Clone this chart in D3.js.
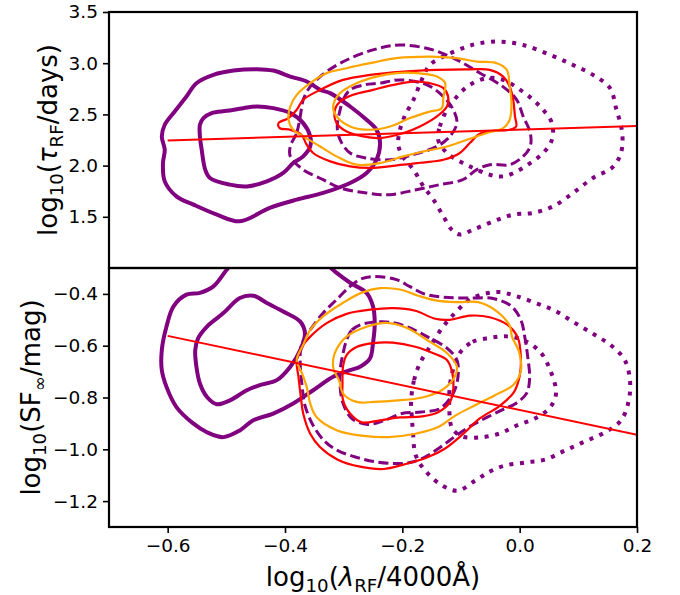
<!DOCTYPE html>
<html><head><meta charset="utf-8">
<script src="https://cdn.jsdelivr.net/npm/d3@7"></script>
<style>
html,body{margin:0;padding:0;background:#fff;}
svg{display:block;}
text{font-family:"DejaVu Sans",sans-serif;}
</style></head>
<body>
<svg id="chart" width="680" height="595"></svg>
<script>
// ---------- data ----------
const xDomain = [-0.7, 0.2];
const tauDomain = [1.0, 3.5];
const sfDomain = [-1.3, -0.3];
const xTicks = [-0.6, -0.4, -0.2, 0.0, 0.2];
const tauTicks = [1.5, 2.0, 2.5, 3.0, 3.5];
const sfTicks = [-1.2, -1.0, -0.8, -0.6, -0.4];

// regression lines (x endpoints, y endpoints)
const fitX = [-0.6, 0.2];
const tauFitY = [2.246, 2.386];
const sfFitY = [-0.562, -0.944];

// ---- top panel (tau) contours ----
const tauPurpleSolidOuter = [[-0.610,2.285],[-0.605,2.399],[-0.588,2.528],[-0.568,2.674],[-0.551,2.805],[-0.522,2.886],[-0.488,2.928],[-0.448,2.942],[-0.420,2.928],[-0.391,2.869],[-0.363,2.821],[-0.340,2.740],[-0.323,2.708],[-0.289,2.577],[-0.261,2.447],[-0.244,2.350],[-0.238,2.220],[-0.244,2.057],[-0.261,1.928],[-0.289,1.830],[-0.335,1.733],[-0.380,1.668],[-0.426,1.587],[-0.477,1.456],[-0.516,1.521],[-0.556,1.619],[-0.585,1.700],[-0.605,1.846],[-0.608,2.025],[-0.605,2.155]];
const tauPurpleSolidInner = [[-0.545,2.399],[-0.539,2.464],[-0.525,2.513],[-0.499,2.535],[-0.471,2.561],[-0.448,2.577],[-0.420,2.561],[-0.391,2.513],[-0.369,2.415],[-0.357,2.285],[-0.357,2.187],[-0.369,2.090],[-0.386,2.025],[-0.403,1.928],[-0.431,1.846],[-0.465,1.797],[-0.494,1.814],[-0.528,1.879],[-0.536,1.960],[-0.542,2.155],[-0.545,2.285]];
const tauPurpleDashOuter = [[-0.391,2.187],[-0.380,2.321],[-0.374,2.480],[-0.369,2.642],[-0.357,2.772],[-0.340,2.869],[-0.306,3.000],[-0.250,3.130],[-0.204,3.178],[-0.148,3.130],[-0.107,3.032],[-0.068,2.905],[-0.028,2.769],[-0.005,2.642],[0.006,2.480],[0.018,2.321],[0.018,2.187],[0.006,2.090],[-0.017,2.009],[-0.051,2.009],[-0.073,1.960],[-0.097,1.863],[-0.136,1.814],[-0.176,1.765],[-0.221,1.716],[-0.261,1.733],[-0.306,1.782],[-0.335,1.863],[-0.369,1.960],[-0.391,2.090]];
const tauPurpleDashInner = [[-0.306,2.545],[-0.301,2.642],[-0.289,2.740],[-0.264,2.789],[-0.238,2.805],[-0.204,2.837],[-0.158,2.789],[-0.130,2.674],[-0.113,2.545],[-0.107,2.415],[-0.119,2.285],[-0.141,2.187],[-0.182,2.106],[-0.221,2.057],[-0.261,2.074],[-0.289,2.123],[-0.306,2.252],[-0.311,2.382]];
const tauPurpleDotOuter = [[-0.207,2.204],[-0.204,2.350],[-0.195,2.496],[-0.181,2.642],[-0.167,2.837],[-0.153,2.983],[-0.124,3.081],[-0.090,3.162],[-0.068,3.195],[-0.034,3.211],[0.006,3.178],[0.052,3.081],[0.091,2.983],[0.125,2.886],[0.154,2.756],[0.165,2.545],[0.174,2.350],[0.174,2.155],[0.160,1.992],[0.125,1.879],[0.091,1.733],[0.057,1.602],[0.023,1.538],[-0.011,1.521],[-0.045,1.456],[-0.079,1.375],[-0.102,1.327],[-0.116,1.375],[-0.130,1.505],[-0.147,1.668],[-0.164,1.797],[-0.181,1.960],[-0.199,2.087]];
const tauPurpleDotInner = [[-0.139,2.252],[-0.136,2.382],[-0.124,2.545],[-0.107,2.674],[-0.085,2.789],[-0.056,2.854],[-0.028,2.837],[0.001,2.740],[0.023,2.642],[0.040,2.545],[0.055,2.415],[0.055,2.252],[0.040,2.123],[0.018,2.025],[-0.005,1.943],[-0.028,1.895],[-0.051,1.911],[-0.085,1.992],[-0.107,2.057],[-0.124,2.123]];
const tauRedOuter = [[-0.411,2.415],[-0.394,2.464],[-0.380,2.545],[-0.369,2.642],[-0.340,2.740],[-0.301,2.837],[-0.255,2.886],[-0.198,2.918],[-0.141,2.935],[-0.085,2.940],[-0.051,2.935],[-0.028,2.869],[-0.017,2.772],[-0.011,2.642],[-0.008,2.480],[-0.006,2.382],[-0.017,2.350],[-0.045,2.340],[-0.068,2.311],[-0.085,2.220],[-0.102,2.123],[-0.130,2.057],[-0.170,2.028],[-0.198,2.009],[-0.255,1.977],[-0.289,1.992],[-0.323,2.041],[-0.352,2.123],[-0.363,2.204],[-0.372,2.301],[-0.391,2.350],[-0.409,2.366]];
const tauRedInner = [[-0.315,2.545],[-0.312,2.415],[-0.295,2.333],[-0.267,2.285],[-0.238,2.269],[-0.198,2.318],[-0.170,2.382],[-0.141,2.480],[-0.124,2.577],[-0.122,2.674],[-0.130,2.756],[-0.153,2.805],[-0.181,2.821],[-0.215,2.789],[-0.250,2.740],[-0.284,2.691],[-0.306,2.626]];
const tauOrangeOuter = [[-0.391,2.577],[-0.394,2.447],[-0.386,2.350],[-0.369,2.285],[-0.340,2.187],[-0.312,2.090],[-0.278,2.009],[-0.238,2.025],[-0.198,2.090],[-0.164,2.138],[-0.124,2.187],[-0.090,2.252],[-0.056,2.318],[-0.028,2.366],[-0.017,2.447],[-0.014,2.610],[-0.017,2.772],[-0.022,2.935],[-0.039,3.000],[-0.073,3.016],[-0.107,3.049],[-0.153,3.064],[-0.210,3.049],[-0.255,3.000],[-0.295,2.951],[-0.329,2.903],[-0.357,2.805],[-0.380,2.691]];
const tauOrangeInner = [[-0.318,2.577],[-0.312,2.480],[-0.289,2.382],[-0.255,2.350],[-0.221,2.382],[-0.187,2.464],[-0.153,2.528],[-0.133,2.561],[-0.130,2.674],[-0.127,2.805],[-0.141,2.869],[-0.176,2.903],[-0.210,2.903],[-0.244,2.869],[-0.278,2.805],[-0.306,2.708]];

// ---- bottom panel (SF) contours ----
const sfPurpleSolidOuter = [[-0.499,-0.306],[-0.522,-0.371],[-0.545,-0.396],[-0.568,-0.403],[-0.590,-0.448],[-0.602,-0.526],[-0.610,-0.617],[-0.610,-0.694],[-0.602,-0.759],[-0.585,-0.837],[-0.556,-0.901],[-0.533,-0.934],[-0.505,-0.953],[-0.477,-0.927],[-0.454,-0.888],[-0.420,-0.862],[-0.386,-0.823],[-0.352,-0.772],[-0.318,-0.720],[-0.289,-0.694],[-0.272,-0.681],[-0.255,-0.648],[-0.250,-0.590],[-0.247,-0.513],[-0.250,-0.448],[-0.261,-0.396],[-0.289,-0.357],[-0.312,-0.319],[-0.323,-0.298],[-0.350,-0.260],[-0.420,-0.240],[-0.480,-0.260]];
const sfPurpleSolidInner = [[-0.553,-0.617],[-0.551,-0.681],[-0.545,-0.746],[-0.533,-0.798],[-0.516,-0.826],[-0.494,-0.811],[-0.465,-0.772],[-0.443,-0.752],[-0.414,-0.733],[-0.391,-0.681],[-0.374,-0.617],[-0.366,-0.552],[-0.374,-0.507],[-0.403,-0.468],[-0.431,-0.435],[-0.454,-0.407],[-0.477,-0.416],[-0.505,-0.474],[-0.533,-0.526],[-0.548,-0.571]];
const sfPurpleDashOuter = [[-0.372,-0.597],[-0.357,-0.539],[-0.335,-0.474],[-0.312,-0.422],[-0.289,-0.371],[-0.269,-0.341],[-0.247,-0.333],[-0.210,-0.345],[-0.187,-0.372],[-0.164,-0.399],[-0.130,-0.413],[-0.085,-0.416],[-0.045,-0.418],[-0.015,-0.446],[0.002,-0.500],[0.009,-0.570],[0.014,-0.648],[0.017,-0.725],[0.012,-0.783],[-0.006,-0.822],[-0.028,-0.846],[-0.056,-0.877],[-0.088,-0.916],[-0.110,-0.950],[-0.136,-0.993],[-0.163,-1.032],[-0.187,-1.051],[-0.215,-1.055],[-0.247,-1.048],[-0.278,-1.031],[-0.310,-1.005],[-0.332,-0.970],[-0.352,-0.908],[-0.366,-0.830],[-0.371,-0.752],[-0.374,-0.675]];
const sfPurpleDashInner = [[-0.295,-0.578],[-0.286,-0.539],[-0.267,-0.516],[-0.227,-0.508],[-0.193,-0.526],[-0.158,-0.565],[-0.124,-0.609],[-0.107,-0.655],[-0.105,-0.717],[-0.113,-0.783],[-0.136,-0.843],[-0.168,-0.856],[-0.201,-0.862],[-0.230,-0.888],[-0.259,-0.904],[-0.286,-0.881],[-0.301,-0.823],[-0.306,-0.759],[-0.306,-0.694],[-0.301,-0.629]];
const sfPurpleDotOuter = [[-0.185,-0.811],[-0.180,-0.733],[-0.170,-0.668],[-0.153,-0.604],[-0.132,-0.531],[-0.110,-0.473],[-0.085,-0.422],[-0.059,-0.399],[-0.034,-0.393],[-0.008,-0.407],[0.026,-0.434],[0.060,-0.465],[0.094,-0.512],[0.128,-0.558],[0.157,-0.601],[0.179,-0.655],[0.188,-0.733],[0.186,-0.811],[0.173,-0.888],[0.145,-0.935],[0.111,-0.970],[0.077,-1.005],[0.043,-1.040],[0.009,-1.051],[-0.025,-1.063],[-0.051,-1.086],[-0.076,-1.121],[-0.105,-1.160],[-0.131,-1.141],[-0.158,-1.090],[-0.177,-1.024],[-0.182,-0.927],[-0.184,-0.869]];
const sfPurpleDotInner = [[-0.102,-0.628],[-0.080,-0.585],[-0.051,-0.570],[-0.022,-0.564],[0.006,-0.578],[0.035,-0.624],[0.052,-0.694],[0.062,-0.783],[0.052,-0.838],[0.026,-0.881],[-0.005,-0.908],[-0.034,-0.939],[-0.068,-0.954],[-0.098,-0.950],[-0.115,-0.919],[-0.120,-0.830],[-0.117,-0.725]];
const sfRedOuter = [[-0.380,-0.655],[-0.369,-0.597],[-0.357,-0.565],[-0.329,-0.513],[-0.295,-0.477],[-0.255,-0.461],[-0.216,-0.455],[-0.178,-0.465],[-0.144,-0.496],[-0.119,-0.500],[-0.085,-0.484],[-0.051,-0.490],[-0.020,-0.521],[-0.003,-0.570],[0.002,-0.644],[0.000,-0.717],[-0.010,-0.780],[-0.035,-0.834],[-0.068,-0.881],[-0.096,-0.940],[-0.127,-0.997],[-0.158,-1.032],[-0.198,-1.059],[-0.232,-1.076],[-0.272,-1.067],[-0.310,-1.040],[-0.340,-0.992],[-0.357,-0.940],[-0.369,-0.862],[-0.373,-0.798],[-0.377,-0.721]];
const sfRedInner = [[-0.302,-0.745],[-0.301,-0.811],[-0.288,-0.865],[-0.269,-0.896],[-0.238,-0.888],[-0.204,-0.877],[-0.166,-0.873],[-0.139,-0.857],[-0.119,-0.818],[-0.113,-0.764],[-0.115,-0.702],[-0.124,-0.655],[-0.144,-0.632],[-0.178,-0.604],[-0.216,-0.588],[-0.250,-0.590],[-0.278,-0.605],[-0.295,-0.636],[-0.301,-0.679]];
const sfOrangeOuter = [[-0.380,-0.655],[-0.369,-0.597],[-0.357,-0.539],[-0.335,-0.487],[-0.301,-0.434],[-0.269,-0.395],[-0.238,-0.378],[-0.204,-0.383],[-0.173,-0.407],[-0.141,-0.426],[-0.105,-0.432],[-0.071,-0.432],[-0.039,-0.467],[-0.017,-0.523],[-0.013,-0.566],[-0.001,-0.624],[0.002,-0.698],[-0.011,-0.752],[-0.042,-0.791],[-0.076,-0.830],[-0.109,-0.869],[-0.139,-0.914],[-0.178,-0.940],[-0.224,-0.953],[-0.269,-0.947],[-0.311,-0.927],[-0.346,-0.876],[-0.357,-0.823],[-0.363,-0.759],[-0.371,-0.706]];
const sfOrangeInner = [[-0.318,-0.655],[-0.312,-0.613],[-0.295,-0.565],[-0.261,-0.527],[-0.227,-0.512],[-0.193,-0.531],[-0.153,-0.585],[-0.124,-0.628],[-0.107,-0.681],[-0.113,-0.729],[-0.136,-0.776],[-0.168,-0.801],[-0.207,-0.811],[-0.248,-0.817],[-0.278,-0.817],[-0.301,-0.785],[-0.308,-0.733],[-0.317,-0.694]];

// ---------- layout ----------
const L = 109, R = 637, T1 = 12, B1 = 268, T2 = 268, B2 = 527;
const PURPLE = "#800080", RED = "#ff0000", ORANGE = "#ffa500";
const styles = {
  solid: {stroke: PURPLE, width: 4, dash: null},
  dash:  {stroke: PURPLE, width: 3, dash: "10,4.5"},
  dot:   {stroke: PURPLE, width: 4, dash: "4,6.6"},
  red:   {stroke: RED, width: 2.2, dash: null},
  orange:{stroke: ORANGE, width: 2.2, dash: null}
};

const svg = d3.select("#chart");
const x = d3.scaleLinear().domain(xDomain).range([L, R]);
const yTau = d3.scaleLinear().domain(tauDomain).range([B1, T1]);
const ySF = d3.scaleLinear().domain(sfDomain).range([B2, T2]);
const fmt = v => d3.format(".1f")(v).replace("-", "\u2212");

const defs = svg.append("defs");
defs.append("clipPath").attr("id","clipTop").append("rect").attr("x",L).attr("y",T1).attr("width",R-L).attr("height",B1-T1);
defs.append("clipPath").attr("id","clipBot").append("rect").attr("x",L).attr("y",T2).attr("width",R-L).attr("height",B2-T2);

function panel(y, clipId, sets, fitY) {
  const g = svg.append("g").attr("clip-path", `url(#${clipId})`);
  const line = d3.line().x(d => x(d[0])).y(d => y(d[1])).curve(d3.curveCatmullRomClosed.alpha(0.5));
  sets.forEach(([data, st]) => {
    const s = styles[st];
    g.append("path").attr("d", line(data)).attr("fill","none")
      .attr("stroke", s.stroke).attr("stroke-width", s.width)
      .attr("stroke-dasharray", s.dash).attr("stroke-linejoin","round");
  });
  const fl = d3.line().x(d => x(d[0])).y(d => y(d[1]));
  g.append("path").attr("d", fl(fitX.map((v,i)=>[v, fitY[i]]))).attr("fill","none")
    .attr("stroke", RED).attr("stroke-width", 2);
}

panel(yTau, "clipTop", [
  [tauPurpleSolidOuter,"solid"],[tauPurpleSolidInner,"solid"],
  [tauPurpleDashOuter,"dash"],[tauPurpleDashInner,"dash"],
  [tauPurpleDotOuter,"dot"],[tauPurpleDotInner,"dot"],
  [tauRedOuter,"red"],[tauRedInner,"red"],
  [tauOrangeOuter,"orange"],[tauOrangeInner,"orange"]
], tauFitY);

panel(ySF, "clipBot", [
  [sfPurpleSolidOuter,"solid"],[sfPurpleSolidInner,"solid"],
  [sfPurpleDashOuter,"dash"],[sfPurpleDashInner,"dash"],
  [sfPurpleDotOuter,"dot"],[sfPurpleDotInner,"dot"],
  [sfRedOuter,"red"],[sfRedInner,"red"],
  [sfOrangeOuter,"orange"],[sfOrangeInner,"orange"]
], sfFitY);

// axes
function styleAxis(g) {
  g.select(".domain").remove();
  g.selectAll(".tick line").attr("stroke","#000").attr("stroke-width",1.6);
  g.selectAll(".tick text").attr("font-size",18.5).attr("fill","#000")
    .attr("font-family","DejaVu Sans, sans-serif");
}
svg.append("g").attr("transform",`translate(${L},0)`)
  .call(d3.axisLeft(yTau).tickValues(tauTicks).tickFormat(fmt).tickSize(6).tickPadding(5)).call(styleAxis);
svg.append("g").attr("transform",`translate(${L},0)`)
  .call(d3.axisLeft(ySF).tickValues(sfTicks).tickFormat(fmt).tickSize(6).tickPadding(5)).call(styleAxis);
svg.append("g").attr("transform",`translate(0,${B2})`)
  .call(d3.axisBottom(x).tickValues(xTicks).tickFormat(fmt).tickSize(6).tickPadding(6)).call(styleAxis);

// frames
svg.append("rect").attr("x",L).attr("y",T1).attr("width",R-L).attr("height",B1-T1)
  .attr("fill","none").attr("stroke","#000").attr("stroke-width",2.2);
svg.append("rect").attr("x",L).attr("y",T2).attr("width",R-L).attr("height",B2-T2)
  .attr("fill","none").attr("stroke","#000").attr("stroke-width",2.2);

// labels
const FS = 26, SUB = 0.7*FS, DY = 0.22*FS;
function label(t, parts) {
  parts.forEach(p => {
    const ts = t.append("tspan").text(p.t);
    if (p.sub) ts.attr("font-size", SUB).attr("dy", DY);
    if (p.back) ts.attr("dy", -DY);
    if (p.it) ts.attr("font-style","italic");
  });
}
const xl = svg.append("text").attr("x", (L+R)/2).attr("y", 586).attr("text-anchor","middle").attr("font-size",FS);
label(xl, [{t:"log"},{t:"10",sub:true},{t:"(",back:true},{t:"\u03bb",it:true},{t:"RF",sub:true},{t:"/4000\u00c5)",back:true}]);

const yl1 = svg.append("text").attr("transform",`translate(57,${(T1+B1)/2}) rotate(-90)`).attr("text-anchor","middle").attr("font-size",FS);
label(yl1, [{t:"log"},{t:"10",sub:true},{t:"(",back:true},{t:"\u03c4",it:true},{t:"RF",sub:true},{t:"/days)",back:true}]);

const yl2 = svg.append("text").attr("transform",`translate(40,${(T2+B2)/2}) rotate(-90)`).attr("text-anchor","middle").attr("font-size",FS);
label(yl2, [{t:"log"},{t:"10",sub:true},{t:"(SF",back:true},{t:"\u221e",sub:true},{t:"/mag)",back:true}]);
</script>
</body></html>
